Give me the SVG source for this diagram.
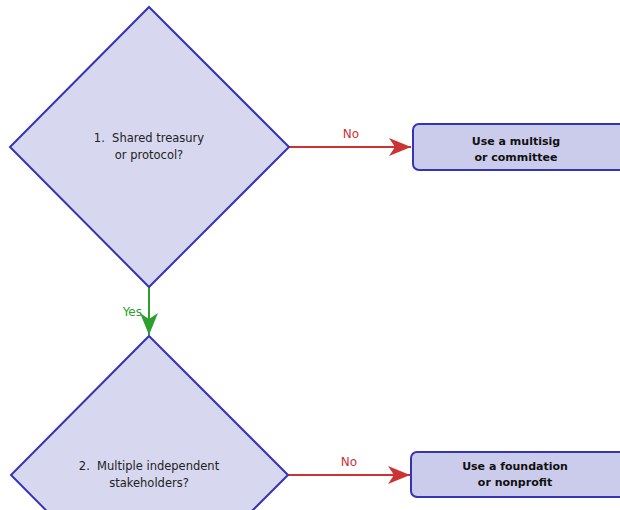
<svg xmlns="http://www.w3.org/2000/svg" width="620" height="510" viewBox="0 0 620 510">
<defs>
<style>
.dia{fill:#d7d7ef;stroke:#3434b4;stroke-width:2}
.box{fill:#cbcbeb;stroke:#3434b4;stroke-width:2}
.t{font-family:"DejaVu Sans","Liberation Sans",sans-serif;font-size:11.5px;fill:#222;text-anchor:middle;white-space:pre}
.b{font-family:"DejaVu Sans","Liberation Sans",sans-serif;font-size:11px;font-weight:bold;fill:#111;text-anchor:middle}
.no{stroke:#cc3333;stroke-width:2;fill:none}
.yes{stroke:#2ca02c;stroke-width:2;fill:none}
.lno{font-family:"DejaVu Sans","Liberation Sans",sans-serif;font-size:12px;fill:#cc3333;text-anchor:middle}
.lyes{font-family:"DejaVu Sans","Liberation Sans",sans-serif;font-size:12px;fill:#2ca02c;text-anchor:end}
</style>
<marker id="mr" markerUnits="userSpaceOnUse" markerWidth="24" markerHeight="20" refX="22" refY="9" orient="auto" viewBox="0 0 24 18">
<path d="M22,9 L0,0 L6,9 L0,18 Z" fill="#cc3333"/>
</marker>
<marker id="mg" markerUnits="userSpaceOnUse" markerWidth="24" markerHeight="20" refX="22" refY="9" orient="auto" viewBox="0 0 24 18">
<path d="M22,9 L0,0 L6,9 L0,18 Z" fill="#2ca02c"/>
</marker>
</defs>
<g id="connectors">
<line class="no" x1="289" y1="147" x2="411" y2="147" marker-end="url(#mr)"/>
<text class="lno" x="351" y="138">No</text>
<line class="yes" x1="149" y1="287" x2="149" y2="335" marker-end="url(#mg)"/>
<text class="lyes" x="142" y="316">Yes</text>
<line class="no" x1="288" y1="475" x2="410" y2="475" marker-end="url(#mr)"/>
<text class="lno" x="349" y="466">No</text>
</g>
<g id="q1">
<polygon class="dia" points="149,7 289,147 149,287 10,147"/>
<text class="t" x="149" y="142" xml:space="preserve">1.  Shared treasury</text>
<text class="t" x="149" y="159">or protocol?</text>
</g>
<g id="a1">
<rect class="box" x="413" y="124" width="218" height="46" rx="6"/>
<text class="b" x="516" y="145">Use a multisig</text>
<text class="b" x="516" y="161">or committee</text>
</g>
<g id="q2">
<polygon class="dia" points="149,336 288,475 149,614 11,475"/>
<text class="t" x="149" y="470" xml:space="preserve">2.  Multiple independent</text>
<text class="t" x="149" y="487">stakeholders?</text>
</g>
<g id="a2">
<rect class="box" x="411" y="452" width="220" height="45" rx="6"/>
<text class="b" x="515" y="470">Use a foundation</text>
<text class="b" x="515" y="486">or nonprofit</text>
</g>
</svg>
